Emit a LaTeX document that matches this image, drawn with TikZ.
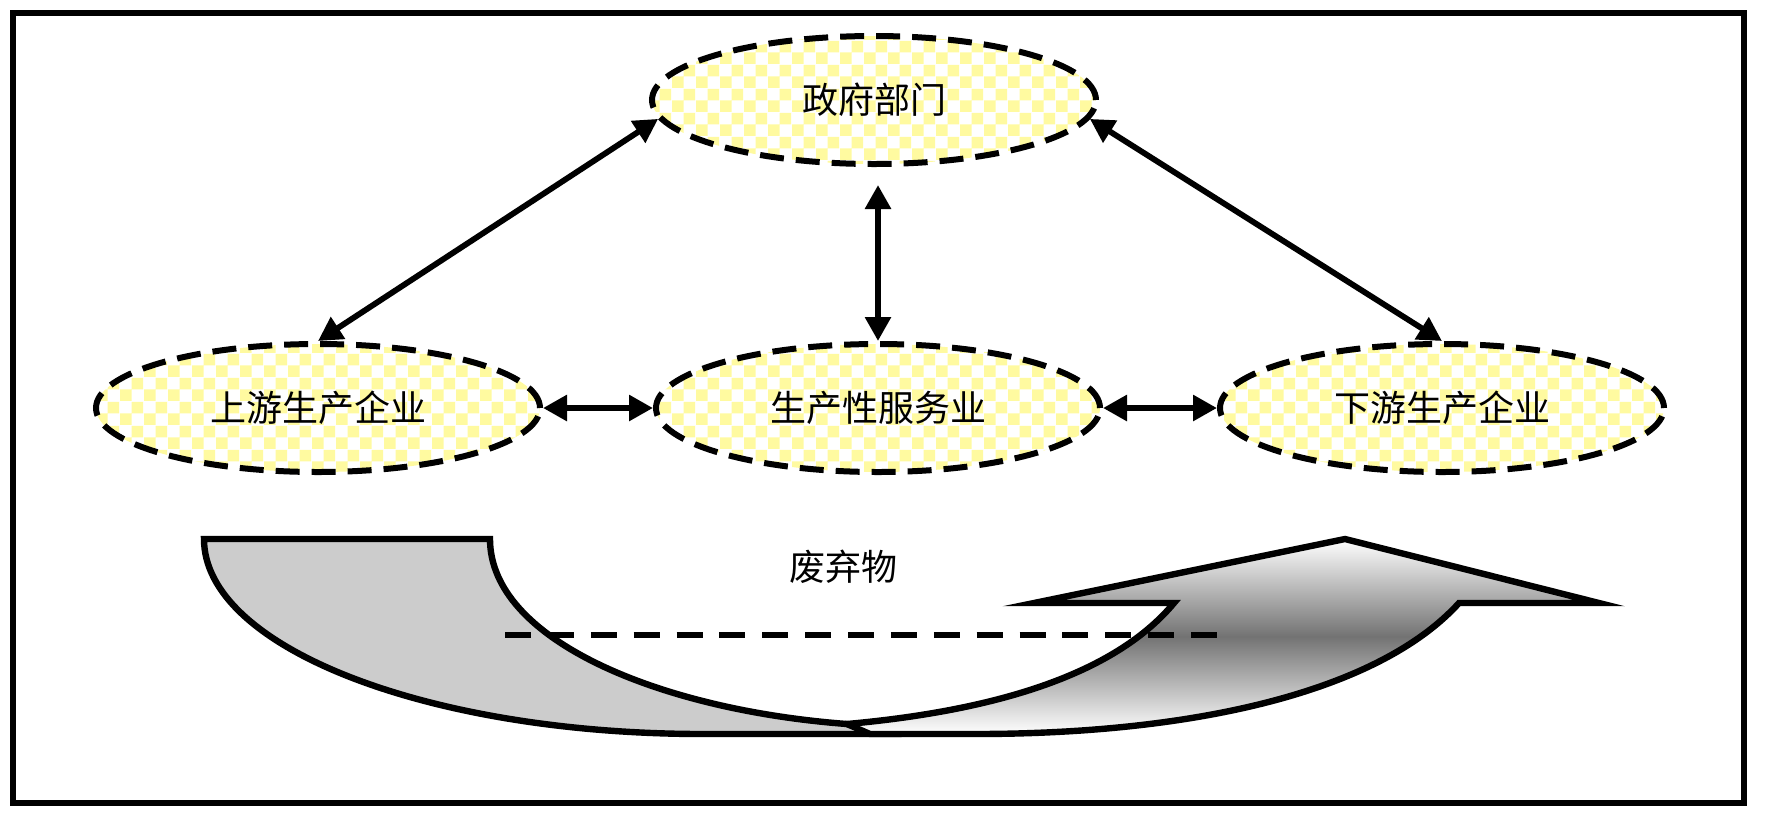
\documentclass[tikz,border=0pt]{standalone}
\usepackage{fontspec}
\newfontfamily\cjk{Noto Sans CJK SC}
\usetikzlibrary{arrows.meta,patterns,shapes.geometric}
\pgfdeclarepatternformonly{checks}{\pgfpointorigin}{\pgfqpoint{12pt}{12pt}}{\pgfqpoint{12pt}{12pt}}{%
  \pgfpathrectangle{\pgfpointorigin}{\pgfqpoint{6pt}{6pt}}%
  \pgfpathrectangle{\pgfqpoint{6pt}{6pt}}{\pgfqpoint{6pt}{6pt}}%
  \pgfusepath{fill}}
\definecolor{checky}{RGB}{255,250,160}
\begin{document}
\begin{tikzpicture}[x=0.5pt,y=-0.5pt,
  party/.style={ellipse, draw, line width=3pt, dash pattern=on 12pt off 6pt,
    pattern=checks, pattern color=checky, minimum width=222pt, minimum height=64pt,
    inner sep=0pt, font=\cjk\fontsize{18pt}{20pt}\selectfont},
  link/.style={line width=2.9pt, {Triangle[length=12pt,width=12.5pt]}-{Triangle[length=12pt,width=12.5pt]}},
  label/.style={font=\cjk\fontsize{18pt}{20pt}\selectfont, inner sep=0pt},
  shapeline/.style={line width=3.2pt, line join=miter}
]
\useasboundingbox (0,0) rectangle (1778,832);
\draw[line width=3.2pt] (13,13) rectangle (1744,803);

\node[party] (gov) at (874,100) {政府部门};
\node[party] (up) at (318,408) {上游生产企业};
\node[party] (mid) at (878,408) {生产性服务业};
\node[party] (down) at (1442,408) {下游生产企业};

\draw[link] (up.north) -- (gov.185);
\draw[link, shorten >=9pt] (mid.north) -- (mid.north |- gov.south);
\draw[link] (down.north) -- (gov.355);
\draw[link] (up) -- (mid);
\draw[link] (mid) -- (down);

% back (gray) part of the curved arrow
\filldraw[shapeline, fill=black!20]
  (204,539) -- (490,539)
  .. controls (490,640) and (660,710) .. (847,724)
  -- (880,734) -- (703,734)
  .. controls (427,734) and (204,647) .. cycle;
% front (shaded) part of the curved arrow
\draw[shapeline, top color=white, bottom color=white, middle color=black!55]
  (847,724)
  .. controls (980,712) and (1110,680) .. (1174,603)
  -- (1034,603) -- (1345,539) -- (1599,603) -- (1459,603)
  .. controls (1380,690) and (1200,734) .. (975,734)
  -- (870,734) -- cycle;

\coordinate (d1) at (505,635);
\coordinate (d2) at (1217,635);
\draw[line width=2.9pt, dash pattern=on 13pt off 8.44pt] (d1) -- (d2);

\node[label] (waste) at (843,567) {废弃物};
\end{tikzpicture}
\end{document}
